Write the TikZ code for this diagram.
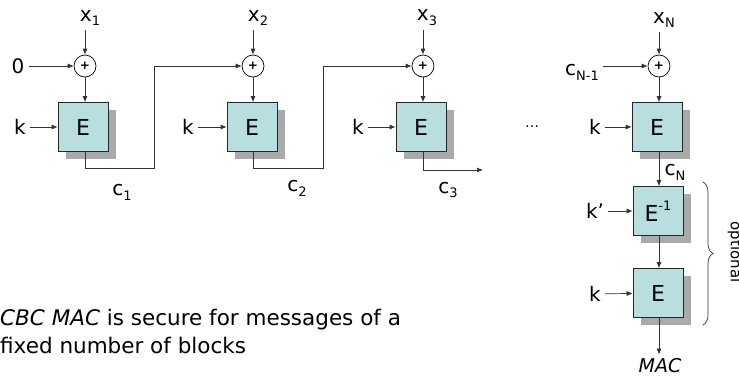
\documentclass[tikz,border=0pt]{standalone}
\usepackage{fontspec}
\setmainfont{DejaVu Sans}
\usetikzlibrary{arrows.meta,shadows,decorations.pathreplacing}
\definecolor{boxcyan}{RGB}{184,222,224}
\definecolor{shadowgray}{RGB}{170,170,170}
\newcommand{\lowsub}[1]{\raisebox{-0.45ex}{\fontsize{13}{13}\selectfont #1}}
\newcommand{\supnum}[1]{\raisebox{0.9ex}{\fontsize{13}{13}\selectfont #1}}

\begin{document}
\begin{tikzpicture}[x=1pt,y=-1pt,
  every node/.style={inner sep=0pt},
  wire/.style={line width=0.7pt,draw=black!80},
  arr/.style={wire,-{Latex[length=6pt,width=5pt]}},
  cipher/.style={draw=black!85,line width=0.7pt,fill=boxcyan,
    minimum width=50pt,minimum height=49pt,font=\fontsize{22}{22}\selectfont,
    drop shadow={shadow xshift=8pt,shadow yshift=-7pt,opacity=1,fill=shadowgray}},
  xor/.style={circle,draw,line width=0.7pt,fill=white,minimum size=22pt,
    font=\fontsize{12}{12}\selectfont\bfseries},
  lbl/.style={inner sep=4pt,font=\fontsize{20}{20}\selectfont},
  note/.style={anchor=base west,font=\fontsize{21.5}{26}\selectfont}]
  \useasboundingbox (0,0) rectangle (739,378);

  % first block
  \node[lbl] (x1) at (90,18) {x\lowsub{1}};
  \node[xor] (xor1) at (85,66) {+};
  \node[lbl] (zero) at (18,66) {0};
  \node[cipher] (E1) at (83,127) {E};
  \node[lbl] (k1) at (20,127) {k};
  \draw[arr] (x1.south -| xor1) -- (xor1);
  \draw[arr] (zero) -- (xor1);
  \draw[arr] (xor1) -- (xor1 |- E1.north);
  \draw[arr] (k1) -- (E1);
  \coordinate (j1) at (154,168);
  \node[lbl] (c1) at (122,192) {c\lowsub{1}};

  % second block
  \node[lbl] (x2) at (258,18) {x\lowsub{2}};
  \node[xor] (xor2) at (253,66) {+};
  \node[cipher] (E2) at (252,127) {E};
  \node[lbl] (k2) at (188,127) {k};
  \draw[arr] (x2.south -| xor2) -- (xor2);
  \draw[arr] (xor2) -- (xor2 |- E2.north);
  \draw[arr] (k2) -- (E2);
  \draw[arr] (xor1 |- E1.south) |- (j1) |- (xor2.west);
  \coordinate (j2) at (323,168);
  \node[lbl] (c2) at (297,188) {c\lowsub{2}};

  % third block
  \node[lbl] (x3) at (427,18) {x\lowsub{3}};
  \node[xor] (xor3) at (423,66) {+};
  \node[cipher] (E3) at (421,127) {E};
  \node[lbl] (k3) at (358,127) {k};
  \draw[arr] (x3.south -| xor3) -- (xor3);
  \draw[arr] (xor3) -- (xor3 |- E3.north);
  \draw[arr] (k3) -- (E3);
  \draw[arr] (xor2 |- E2.south) |- (j2) |- (xor3.west);
  \coordinate (o3) at (483,170);
  \draw[arr] (xor3 |- E3.south) |- (o3);
  \node[lbl] (c3) at (448,190) {c\lowsub{3}};

  \node[font=\fontsize{14}{14}\selectfont] (dots) at (532,127) {…};

  % last block
  \node[lbl] (xN) at (664,20) {x\lowsub{N}};
  \node[xor] (xorN) at (659,66) {+};
  \node[lbl] (cprev) at (582,72) {c\lowsub{N-1}};
  \node[cipher] (EN) at (657,127) {E};
  \node[lbl] (kN) at (595,127) {k};
  \draw[arr] (xN.south -| xorN) -- (xorN);
  \draw[arr] (cprev.east |- xorN.west) -- (xorN.west);
  \draw[arr] (xorN) -- (xorN |- EN.north);
  \draw[arr] (kN) -- (EN);
  \node[lbl] (cN) at (675,172) {c\lowsub{N}};

  % optional re-encryption
  \node[cipher] (EI) at (658,211) {E\supnum{-1}};
  \node[lbl] (kp) at (595,211) {k’};
  \node[cipher] (EL) at (658,293) {E};
  \node[lbl] (kL) at (595,294) {k};
  \node[lbl,font=\fontsize{19}{19}\selectfont\itshape] (mac) at (660,366) {MAC};
  \draw[arr] (xorN |- EN.south) -- (xorN |- EI.north);
  \draw[arr] (kp) -- (EI);
  \draw[arr] (xorN |- EI.south) -- (xorN |- EL.north);
  \draw[arr] (kL) -- (EL);
  \draw[arr] (xorN |- EL.south) -- (mac.north -| xorN);
  \coordinate (bt) at (703,182);
  \coordinate (bb) at (703,325);
  \draw[wire,decorate,decoration={brace,amplitude=10pt}] (bt) -- (bb);
  \node[rotate=-90,font=\fontsize{15}{15}\selectfont] (opt) at (735,252) {optional};

  \node[note] (line1) at (0,325) {\textit{CBC MAC} is secure for messages of a};
  \node[note] (line2) at (0,353) {fixed number of blocks};
\end{tikzpicture}
\end{document}
